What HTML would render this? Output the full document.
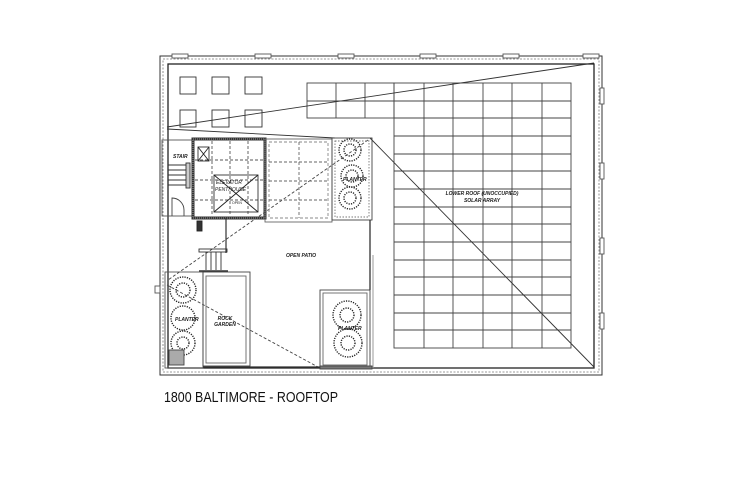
<!DOCTYPE html>
<html><head><meta charset="utf-8"><style>
html,body{margin:0;padding:0;background:#fff;width:742px;height:480px;overflow:hidden}
svg{display:block}
text{font-family:"Liberation Sans",sans-serif}
</style></head><body>
<svg width="742" height="480" viewBox="0 0 742 480" xmlns="http://www.w3.org/2000/svg" fill="none" stroke="#222" stroke-width="0.9">
<rect x="160" y="56" width="442" height="319" stroke="#333" stroke-width="1"/>
<rect x="168" y="64" width="426" height="304" stroke="#222" stroke-width="1.3"/>
<rect x="163" y="59" width="436" height="313" stroke="#777" stroke-dasharray="2,1.5" stroke-width="0.8"/>
<g stroke="#555" fill="#fff">
<rect x="172" y="54" width="16" height="4"/><rect x="255" y="54" width="16" height="4"/><rect x="338" y="54" width="16" height="4"/><rect x="420" y="54" width="16" height="4"/><rect x="503" y="54" width="16" height="4"/><rect x="583" y="54" width="16" height="4"/>
<rect x="600" y="88" width="4" height="16"/><rect x="600" y="163" width="4" height="16"/><rect x="600" y="238" width="4" height="16"/><rect x="600" y="313" width="4" height="16"/>
<rect x="155" y="286" width="5" height="7"/>
</g>
<g stroke="#333">
<rect x="180" y="77" width="16" height="17"/><rect x="212" y="77" width="17" height="17"/><rect x="245" y="77" width="17" height="17"/>
<rect x="180" y="110" width="16" height="17"/><rect x="212" y="110" width="17" height="17"/><rect x="245" y="110" width="17" height="17"/>
</g>
<g stroke="#444" stroke-width="0.9">
<rect x="307" y="83" width="87" height="35"/>
<line x1="307" y1="101" x2="394" y2="101"/>
<line x1="336" y1="83" x2="336" y2="118"/><line x1="365" y1="83" x2="365" y2="118"/>
<rect x="394" y="83" width="177" height="265"/>
<line x1="424" y1="83" x2="424" y2="348"/><line x1="453" y1="83" x2="453" y2="348"/><line x1="483" y1="83" x2="483" y2="348"/><line x1="512" y1="83" x2="512" y2="348"/><line x1="542" y1="83" x2="542" y2="348"/>
<line x1="394" y1="101" x2="571" y2="101"/><line x1="394" y1="118" x2="571" y2="118"/><line x1="394" y1="136" x2="571" y2="136"/><line x1="394" y1="154" x2="571" y2="154"/><line x1="394" y1="171" x2="571" y2="171"/><line x1="394" y1="189" x2="571" y2="189"/><line x1="394" y1="207" x2="571" y2="207"/><line x1="394" y1="224" x2="571" y2="224"/><line x1="394" y1="242" x2="571" y2="242"/><line x1="394" y1="260" x2="571" y2="260"/><line x1="394" y1="277" x2="571" y2="277"/><line x1="394" y1="295" x2="571" y2="295"/><line x1="394" y1="313" x2="571" y2="313"/><line x1="394" y1="330" x2="571" y2="330"/>
</g>
<text x="482" y="195" font-size="5" font-style="italic" font-weight="bold" fill="#222" stroke="none" text-anchor="middle">LOWER ROOF (UNOCCUPIED)</text>
<text x="482" y="202" font-size="5" font-style="italic" font-weight="bold" fill="#222" stroke="none" text-anchor="middle">SOLAR ARRAY</text>
<line x1="167" y1="127" x2="594" y2="63" stroke="#333"/>
<line x1="167" y1="129" x2="335" y2="138" stroke="#333"/>
<line x1="370" y1="138" x2="594" y2="367" stroke="#333"/>
<line x1="368" y1="140" x2="168" y2="280" stroke="#444" stroke-dasharray="3,2"/>
<line x1="167" y1="285" x2="318" y2="367" stroke="#444" stroke-dasharray="3,2"/>
<rect x="162" y="140" width="31" height="76" stroke="#555"/>
<text x="173" y="158" font-size="5" font-style="italic" font-weight="bold" fill="#222" stroke="none">STAIR</text>
<g stroke="#333"><line x1="168" y1="165" x2="186" y2="165"/><line x1="168" y1="170" x2="186" y2="170"/><line x1="168" y1="175" x2="186" y2="175"/><line x1="168" y1="180" x2="186" y2="180"/><line x1="168" y1="185" x2="186" y2="185"/><rect x="186" y="163" width="4" height="25" fill="#ccc"/></g>
<path d="M172 216 V198 A12 12 0 0 1 184 210 V216" stroke="#444"/>
<rect x="193" y="139" width="72" height="79" stroke="#333" stroke-width="3" fill="none"/>
<rect x="193" y="139" width="72" height="79" stroke="#777" stroke-width="1.6" stroke-dasharray="1,1"/>
<g stroke="#555" stroke-dasharray="3,2"><line x1="212" y1="141" x2="212" y2="216"/><line x1="230" y1="141" x2="230" y2="216"/><line x1="248" y1="141" x2="248" y2="216"/><line x1="195" y1="160" x2="263" y2="160"/><line x1="195" y1="180" x2="263" y2="180"/><line x1="195" y1="200" x2="263" y2="200"/></g>
<rect x="214" y="175" width="44" height="37" stroke="#333"/>
<line x1="214" y1="175" x2="258" y2="212"/><line x1="258" y1="175" x2="214" y2="212"/>
<rect x="198" y="147" width="11" height="14" stroke="#333"/><line x1="198" y1="147" x2="209" y2="161"/><line x1="209" y1="147" x2="198" y2="161"/>
<text x="216" y="184" font-size="5" font-style="italic" fill="#222" stroke="none">ELEVATOR</text>
<text x="215" y="191" font-size="5" font-style="italic" fill="#222" stroke="none">PENTHOUSE</text>
<text x="232" y="204" font-size="3.5" fill="#222" stroke="none">OPEN</text>
<rect x="265" y="139" width="67" height="83" stroke="#666"/>
<rect x="269" y="142" width="59" height="76" stroke="#888" stroke-dasharray="3,2"/>
<g stroke="#666" stroke-dasharray="3,2"><line x1="299" y1="142" x2="299" y2="218"/><line x1="269" y1="162" x2="328" y2="162"/><line x1="269" y1="181" x2="328" y2="181"/><line x1="269" y1="200" x2="328" y2="200"/></g>
<rect x="332" y="138" width="40" height="82" stroke="#444"/>
<rect x="335" y="141" width="34" height="76" stroke="#777" stroke-dasharray="1.5,1.5"/>
<g stroke="#222" stroke-dasharray="1.2,1.2" stroke-width="1.4"><circle cx="350" cy="150" r="11"/><circle cx="350" cy="150" r="6"/><circle cx="352" cy="176" r="11"/><circle cx="352" cy="176" r="6"/><circle cx="350" cy="198" r="11"/><circle cx="350" cy="198" r="6"/></g>
<text x="343" y="181" font-size="5" font-style="italic" font-weight="bold" fill="#222" stroke="none">PLANTER</text>
<rect x="197" y="221" width="5" height="10" fill="#333"/>
<line x1="226" y1="218" x2="226" y2="253" stroke="#333" stroke-width="1.2"/>
<rect x="199" y="249" width="28" height="3" stroke="#333"/>
<g stroke="#333"><line x1="206" y1="252" x2="206" y2="270"/><line x1="211" y1="252" x2="211" y2="270"/><line x1="216" y1="252" x2="216" y2="270"/><line x1="221" y1="252" x2="221" y2="270"/></g>
<line x1="199" y1="271" x2="228" y2="271" stroke="#333" stroke-width="1.5"/>
<line x1="370" y1="220" x2="370" y2="290" stroke="#333" stroke-width="1.3"/>
<line x1="373" y1="255" x2="373" y2="368" stroke="#999" stroke-width="1"/>
<text x="301" y="257" font-size="5" font-style="italic" font-weight="bold" fill="#222" stroke="none" text-anchor="middle">OPEN PATIO</text>
<rect x="165" y="272" width="38" height="96" stroke="#555"/>
<g stroke="#222" stroke-dasharray="1.2,1.2" stroke-width="1.4"><circle cx="183" cy="290" r="13"/><circle cx="183" cy="290" r="7"/><circle cx="183" cy="318" r="12"/><circle cx="183" cy="343" r="12"/><circle cx="183" cy="343" r="6"/></g>
<rect x="169" y="350" width="15" height="15" fill="#aaa" stroke="#444"/>
<text x="175" y="321" font-size="5" font-style="italic" font-weight="bold" fill="#222" stroke="none">PLANTER</text>
<rect x="203" y="272" width="47" height="94" stroke="#444"/>
<rect x="206" y="276" width="40" height="87" stroke="#666"/>
<text x="225" y="320" font-size="5" font-style="italic" font-weight="bold" fill="#222" stroke="none" text-anchor="middle">ROCK</text>
<text x="225" y="326" font-size="5" font-style="italic" font-weight="bold" fill="#222" stroke="none" text-anchor="middle">GARDEN</text>
<line x1="203" y1="367" x2="320" y2="367" stroke="#333" stroke-width="1.2"/>
<rect x="320" y="290" width="50" height="78" stroke="#444"/>
<rect x="323" y="293" width="44" height="72" stroke="#666"/>
<g stroke="#222" stroke-dasharray="1.2,1.2" stroke-width="1.4"><circle cx="347" cy="315" r="14"/><circle cx="347" cy="315" r="7"/><circle cx="348" cy="343" r="14"/><circle cx="348" cy="343" r="7"/></g>
<text x="338" y="330" font-size="5" font-style="italic" font-weight="bold" fill="#222" stroke="none">PLANTER</text>
<rect x="320" y="366" width="52" height="3" fill="#777" stroke="#444"/>
<text x="164" y="402" font-size="15" fill="#111" stroke="none" textLength="174" lengthAdjust="spacingAndGlyphs">1800 BALTIMORE - ROOFTOP</text>
</svg>
</body></html>
